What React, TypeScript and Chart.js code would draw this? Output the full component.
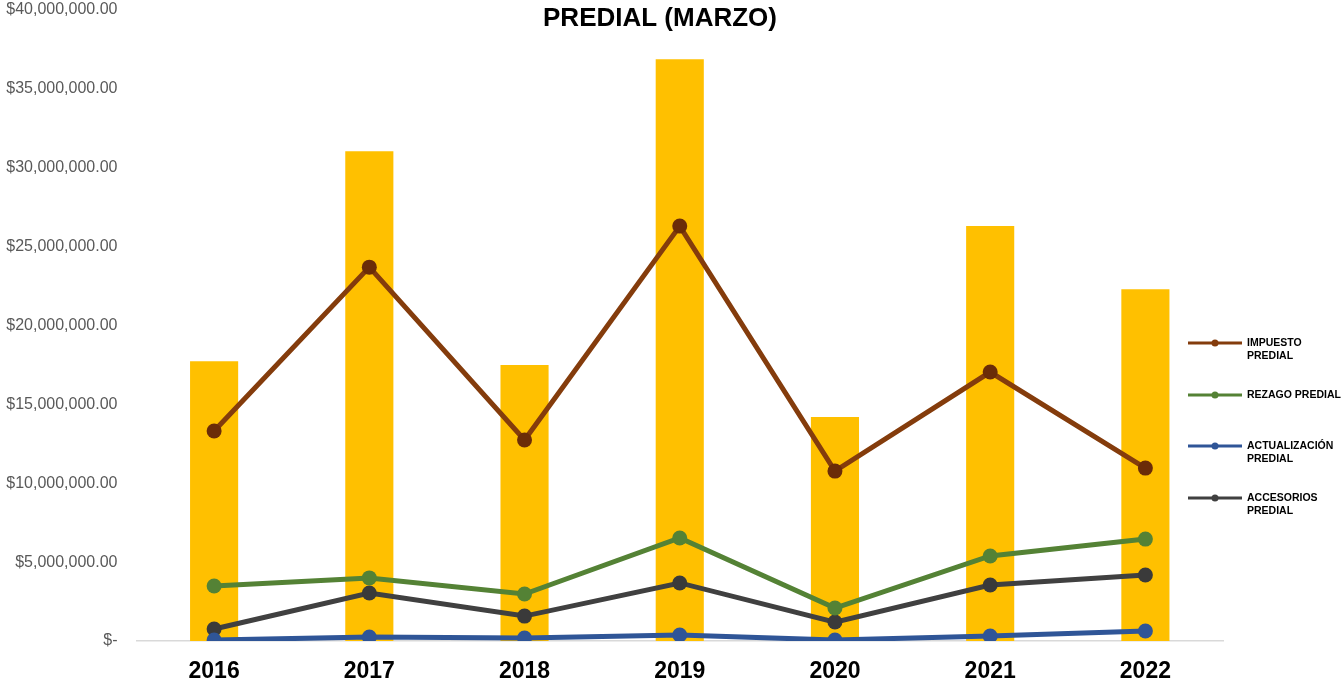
import React, { useEffect, useRef } from "react";
import { Chart, registerables } from "chart.js";

Chart.register(...registerables);

const years = ["2016", "2017", "2018", "2019", "2020", "2021", "2022"];
const totalPredial = [17740000, 31050000, 17490000, 36880000, 14200000, 26300000, 22300000];
const impuestoPredial = [13310000, 23700000, 12740000, 26300000, 10770000, 17050000, 10960000];
const rezagoPredial = [3490000, 4000000, 2980000, 6530000, 2090000, 5390000, 6460000];
const actualizacionPredial = [60000, 250000, 190000, 380000, 60000, 320000, 630000];
const accesoriosPredial = [760000, 3040000, 1580000, 3680000, 1200000, 3550000, 4180000];
const yTicks = [0, 5000000, 10000000, 15000000, 20000000, 25000000, 30000000, 35000000, 40000000];

const chartTitle = "PREDIAL (MARZO)";

const legendItems = [
  { lines: ["IMPUESTO", "PREDIAL"], color: "#843C0C", dot: "#843C0C" },
  { lines: ["REZAGO PREDIAL"], color: "#548235", dot: "#548235" },
  { lines: ["ACTUALIZACIÓN", "PREDIAL"], color: "#2F5597", dot: "#2F5597" },
  { lines: ["ACCESORIOS", "PREDIAL"], color: "#404040", dot: "#404040" },
];
const legendY = [343, 395, 446, 498];

function fmtMoney(v: number): string {
  if (v === 0) return "$-";
  return "$" + v.toLocaleString("en-US", { minimumFractionDigits: 2, maximumFractionDigits: 2 });
}

const overlayPlugin = {
  id: "overlay",
  afterDraw(chart: any) {
    const ctx = chart.ctx;
    ctx.save();
    ctx.fillStyle = "#000000";
    ctx.font = "bold 26px 'Liberation Sans', Arial, sans-serif";
    ctx.textAlign = "center";
    ctx.textBaseline = "middle";
    ctx.fillText(chartTitle, 660, 19);

    legendItems.forEach((it, i) => {
      const y = legendY[i];
      ctx.strokeStyle = it.color;
      ctx.lineWidth = 3;
      ctx.beginPath();
      ctx.moveTo(1188, y);
      ctx.lineTo(1242, y);
      ctx.stroke();
      ctx.fillStyle = it.dot;
      ctx.beginPath();
      ctx.arc(1215, y, 3.5, 0, Math.PI * 2);
      ctx.fill();
      ctx.fillStyle = "#000000";
      ctx.font = "bold 10.5px 'Liberation Sans', Arial, sans-serif";
      ctx.textAlign = "left";
      ctx.textBaseline = "middle";
      it.lines.forEach((t, j) => ctx.fillText(t, 1247, y + j * 13));
    });
    ctx.restore();
  },
};

function lineDs(label: string, data: number[], color: string, pointColor: string) {
  return {
    type: "line" as const,
    label,
    data,
    borderColor: color,
    backgroundColor: pointColor,
    pointBackgroundColor: pointColor,
    pointBorderColor: pointColor,
    borderWidth: 5,
    pointRadius: 7.5,
    pointBorderWidth: 0,
    tension: 0,
    order: 1,
  };
}

export default function App() {
  const ref = useRef<HTMLCanvasElement>(null);
  useEffect(() => {
    if (!ref.current) return;
    const chart = new Chart(ref.current, {
      type: "bar",
      data: {
        labels: years,
        datasets: [
          {
            type: "bar" as const,
            label: "TOTAL",
            data: totalPredial,
            backgroundColor: "#FFC000",
            barPercentage: 0.62,
            categoryPercentage: 0.5,
            order: 10,
          },
          lineDs("IMPUESTO PREDIAL", impuestoPredial, "#843C0C", "#6B2C08"),
          lineDs("REZAGO PREDIAL", rezagoPredial, "#548235", "#548235"),
          lineDs("ACTUALIZACIÓN PREDIAL", actualizacionPredial, "#2F5597", "#2F5597"),
          lineDs("ACCESORIOS PREDIAL", accesoriosPredial, "#404040", "#3A3A3A"),
        ] as any,
      },
      options: {
        responsive: false,
        animation: false,
        layout: { padding: { top: 10, right: 119, left: 0, bottom: 0 } },
        plugins: {
          legend: { display: false },
          title: { display: false },
          tooltip: { enabled: false },
        },
        scales: {
          x: {
            grid: { display: false, drawTicks: false },
            border: { display: true, color: "#D9D9D9", width: 1.5 },
            ticks: {
              color: "#000000",
              font: { family: "'Liberation Sans', Arial, sans-serif", size: 23, weight: "bold" },
              padding: 17,
            },
            afterFit(scale: any) {
              scale.height = 42;
              scale.paddingLeft = 0;
              scale.paddingRight = 0;
            },
          },
          y: {
            min: 0,
            max: 40000000,
            afterBuildTicks(scale: any) {
              scale.ticks = yTicks.map((v) => ({ value: v }));
            },
            grid: { display: false, drawTicks: false },
            border: { display: false },
            ticks: {
              color: "#595959",
              font: { family: "'Liberation Sans', Arial, sans-serif", size: 16 },
              padding: 19,
              callback: (v: any) => fmtMoney(Number(v)),
            },
            afterFit(scale: any) {
              scale.width = 136.5;
              scale.paddingTop = 0;
              scale.paddingBottom = 0;
            },
          },
        },
      },
      plugins: [overlayPlugin],
    });
    return () => chart.destroy();
  }, []);
  return (
    <div style={{ position: "absolute", left: 0, top: 0, width: 1342, height: 683, background: "#fff" }}>
      <canvas ref={ref} width={1342} height={683} />
    </div>
  );
}
